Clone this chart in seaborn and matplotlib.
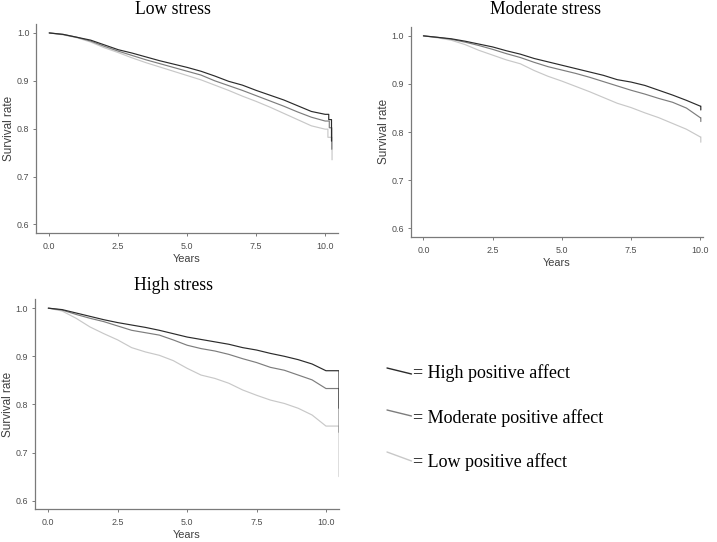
import matplotlib
matplotlib.use("Agg")
import matplotlib.pyplot as plt
from matplotlib.lines import Line2D
import seaborn as sns
import pandas as pd

# ---------------- data ----------------
YEARS = [0.0, 0.5, 1.0, 1.5, 2.0, 2.5, 3.0, 3.5, 4.0, 4.5, 5.0,
         5.5, 6.0, 6.5, 7.0, 7.5, 8.0, 8.5, 9.0, 9.5, 10.0]

GROUPS = ["High positive affect", "Moderate positive affect", "Low positive affect"]
PANELS = ["Low stress", "Moderate stress", "High stress"]

# Low stress
low_high = [1.000, 0.997, 0.991, 0.985, 0.975, 0.965, 0.958, 0.950, 0.942, 0.935, 0.928,
            0.920, 0.910, 0.899, 0.891, 0.880, 0.870, 0.860, 0.848, 0.836, 0.830]
low_mod = [1.000, 0.997, 0.991, 0.983, 0.972, 0.962, 0.953, 0.944, 0.936, 0.928, 0.920,
           0.912, 0.900, 0.890, 0.880, 0.869, 0.858, 0.847, 0.835, 0.824, 0.816]
low_low = [1.000, 0.996, 0.990, 0.981, 0.969, 0.959, 0.948, 0.938, 0.929, 0.920, 0.911,
           0.902, 0.891, 0.880, 0.868, 0.857, 0.845, 0.832, 0.819, 0.806, 0.799]
low_high_tail_t = [10.13, 10.13, 10.23, 10.23]
low_high_tail_v = [0.830, 0.819, 0.819, 0.774]
low_mod_tail_t = [10.15, 10.15, 10.24, 10.24]
low_mod_tail_v = [0.816, 0.802, 0.802, 0.757]
low_low_tail_t = [10.10, 10.10, 10.25, 10.25]
low_low_tail_v = [0.799, 0.782, 0.782, 0.735]

# Moderate stress
mod_high = [1.000, 0.997, 0.994, 0.989, 0.983, 0.977, 0.969, 0.962, 0.953, 0.946, 0.939,
            0.932, 0.925, 0.918, 0.909, 0.904, 0.897, 0.887, 0.877, 0.866, 0.854]
mod_mod = [1.000, 0.997, 0.993, 0.987, 0.980, 0.972, 0.963, 0.955, 0.945, 0.936, 0.929,
           0.922, 0.914, 0.905, 0.896, 0.887, 0.879, 0.870, 0.862, 0.850, 0.830]
mod_low = [1.000, 0.996, 0.991, 0.982, 0.970, 0.960, 0.950, 0.942, 0.928, 0.916, 0.906,
           0.895, 0.884, 0.872, 0.860, 0.851, 0.840, 0.830, 0.818, 0.806, 0.790]
mod_high_tail_t = [10.02, 10.02]
mod_high_tail_v = [0.854, 0.846]
mod_mod_tail_t = [10.02, 10.02]
mod_mod_tail_v = [0.830, 0.822]
mod_low_tail_t = [10.02, 10.02]
mod_low_tail_v = [0.790, 0.779]

# High stress
high_high = [1.000, 0.997, 0.990, 0.983, 0.976, 0.970, 0.965, 0.960, 0.954, 0.947, 0.940,
             0.935, 0.930, 0.925, 0.918, 0.913, 0.906, 0.900, 0.893, 0.884, 0.870]
high_mod = [1.000, 0.996, 0.987, 0.979, 0.972, 0.963, 0.954, 0.949, 0.944, 0.934, 0.923,
            0.916, 0.911, 0.904, 0.895, 0.887, 0.877, 0.871, 0.861, 0.851, 0.833]
high_low = [1.000, 0.994, 0.979, 0.961, 0.947, 0.934, 0.918, 0.909, 0.902, 0.891, 0.875,
            0.861, 0.854, 0.844, 0.830, 0.819, 0.809, 0.802, 0.792, 0.778, 0.755]
high_high_tail_t = [10.47, 10.47]
high_high_tail_v = [0.870, 0.792]
high_mod_tail_t = [10.47, 10.47]
high_mod_tail_v = [0.833, 0.742]
high_low_tail_t = [10.47, 10.47]
high_low_tail_v = [0.755, 0.650]

X_TICKS = [0.0, 2.5, 5.0, 7.5, 10.0]
Y_TICKS = [0.6, 0.7, 0.8, 0.9, 1.0]

# ---------------- build tidy table ----------------
series = {
    "Low stress": [(low_high, low_high_tail_t, low_high_tail_v),
                   (low_mod, low_mod_tail_t, low_mod_tail_v),
                   (low_low, low_low_tail_t, low_low_tail_v)],
    "Moderate stress": [(mod_high, mod_high_tail_t, mod_high_tail_v),
                        (mod_mod, mod_mod_tail_t, mod_mod_tail_v),
                        (mod_low, mod_low_tail_t, mod_low_tail_v)],
    "High stress": [(high_high, high_high_tail_t, high_high_tail_v),
                    (high_mod, high_mod_tail_t, high_mod_tail_v),
                    (high_low, high_low_tail_t, high_low_tail_v)],
}
rows = []
for panel in PANELS:
    for grp, (vals, tt, tv) in zip(GROUPS, series[panel]):
        for t, v in zip(YEARS + tt, vals + tv):
            rows.append({"panel": panel, "group": grp, "years": t, "surv": v})
df = pd.DataFrame(rows)

# ---------------- style ----------------
sns.set_style("ticks")
plt.rcParams["font.family"] = ["Liberation Sans", "DejaVu Sans"]

COLORS = {"High positive affect": "#2b2b2b",
          "Moderate positive affect": "#7d7d7d",
          "Low positive affect": "#c8c8c8"}

fig = plt.figure(figsize=(7.17, 5.42), dpi=100)
rects = {
    "Low stress": [0.0502, 0.570, 0.421, 0.386],
    "Moderate stress": [0.5728, 0.5627, 0.4077, 0.388],
    "High stress": [0.0484, 0.0603, 0.4248, 0.388],
}
xlims = {"Low stress": (-0.48, 10.46), "Moderate stress": (-0.46, 10.10),
         "High stress": (-0.49, 10.48)}
title_pos = {"Low stress": (173 / 717, 1 - 14 / 542),
             "Moderate stress": (546 / 717, 1 - 14 / 542),
             "High stress": (173 / 717, 1 - 290.5 / 542)}

for panel in PANELS:
    ax = fig.add_axes(rects[panel])
    sub = df[df["panel"] == panel]
    sns.lineplot(data=sub, x="years", y="surv", hue="group", hue_order=GROUPS[::-1],
                 palette=COLORS, estimator=None, sort=False, legend=False,
                 linewidth=0.85, ax=ax)
    ax.set_xlim(*xlims[panel])
    ax.set_ylim(0.582, 1.019)
    ax.set_xticks(X_TICKS)
    ax.set_yticks(Y_TICKS)
    ax.set_xticklabels([f"{t:.1f}" for t in X_TICKS])
    ax.set_yticklabels([f"{t:.1f}" for t in Y_TICKS])
    sns.despine(ax=ax)
    for s in ("left", "bottom"):
        ax.spines[s].set_color("#7a7a7a")
        ax.spines[s].set_linewidth(0.9)
    ax.tick_params(axis="both", colors="#7a7a7a", labelcolor="#4d4d4d",
                   labelsize=6.4, length=2.2, width=0.7, pad=2.6)
    ax.tick_params(axis="x", pad=4.2)
    ax.set_xlabel("Years", fontsize=7.9, color="#404040", labelpad=2.0)
    ax.set_ylabel("Survival rate", fontsize=8.5, color="#404040", labelpad=1.0)
    tx, ty = title_pos[panel]
    fig.text(tx, ty, panel, ha="center", va="baseline",
             family=["Liberation Serif", "DejaVu Serif"], fontsize=12.7, color="black")

# ---------------- legend ----------------
leg_rows = [("High positive affect", 368, 374, 378),
            ("Moderate positive affect", 410, 416, 422.7),
            ("Low positive affect", 452, 461, 467.4)]
for grp, y0, y1, base in leg_rows:
    fig.add_artist(Line2D([387 / 717, 411.5 / 717], [1 - y0 / 542, 1 - y1 / 542],
                          transform=fig.transFigure, color=COLORS[grp], linewidth=1.0))
    fig.text(413 / 717, 1 - base / 542, "= " + grp, ha="left", va="baseline",
             family=["Liberation Serif", "DejaVu Serif"], fontsize=13, color="black")

fig.savefig("out.png", dpi=100)
